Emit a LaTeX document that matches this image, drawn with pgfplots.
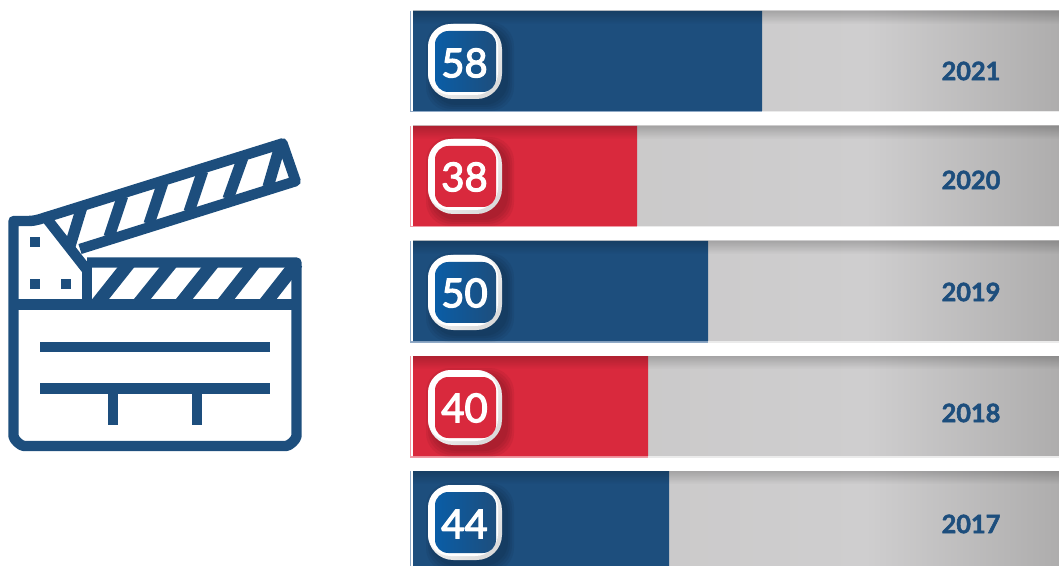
\documentclass[border=0pt]{standalone}
\usepackage{pgfplots}
\pgfplotsset{compat=1.18}
\usepackage{fontspec}
\setmainfont{Lato}
\newfontfamily\numfont[FakeBold=3]{Lato}
\newfontfamily\yearfont[BoldFeatures={FakeBold=2}]{Lato}
\definecolor{nblue}{HTML}{1D4E7D}
\definecolor{nred}{HTML}{D9293D}
\definecolor{gA}{HTML}{C6C5C5}
\definecolor{gB}{HTML}{CFCECF}
\definecolor{gC}{HTML}{AEADAD}
\definecolor{tintb}{HTML}{8FA9C6}
\definecolor{tintr}{HTML}{F09AA5}
\definecolor{badgeL}{HTML}{0A5DA6}
\pgfdeclarehorizontalshading{track}{100bp}{color(0bp)=(gA);color(25bp)=(gA);color(60bp)=(gB);color(75bp)=(gC);color(100bp)=(gC)}
\newcommand{\badge}[4]{%
  \begin{scope}[shift={(0,#1)}]
    \foreach \e in {7,5,3,1}{
      \fill[black,opacity=0.055,rounded corners=18]
        (428+5-\e,5-\e) rectangle (502+5+\e,75+5+\e);}
    \shade[rounded corners=19,left color=white,right color=white!86!black,shading angle=45]
      (428,0) rectangle (502,75);
    \fill[white,rounded corners=17] (428,0) rectangle (498,71);
    #2
    \node[text=white,inner sep=0pt,font=\fontsize{30pt}{30pt}\numfont] at (464.5,#4) {#3};
  \end{scope}}
\newcommand{\blueinner}{\shade[rounded corners=10,left color=badgeL,right color=nblue] (435,7) rectangle (496,68);}
\newcommand{\redinner}{\fill[nred,rounded corners=10] (435,7) rectangle (496,68);}
\begin{document}
\begin{tikzpicture}
\begin{scope}[x=0.75pt,y=-0.75pt]
\path[use as bounding box] (0,0) rectangle (1059,566);
\clip (0,0) rectangle (1059,566);
\foreach \t in {11,126,241,356,471}{
  \shade[shading=track] (413,\t) rectangle (1059,\t+100);
  \fill[white!92!black] (413,\t+100) rectangle (1059,\t+101.5);
}
\foreach \t/\c in {11/tintb,126/tintr,241/tintb,356/tintr,471/tintb}{
  \fill[\c] (410,\t) rectangle (411.2,\t+101.5);
}
\fill[tintb] (410,111) rectangle (762,112.5);
\fill[tintr] (410,226) rectangle (637,227.5);
\fill[tintb] (410,341) rectangle (708,342.5);
\fill[tintr] (410,456) rectangle (648,457.5);
\end{scope}
% bars: x in value units (5.9 px per unit), y = row position in pixels from the bottom
\begin{axis}[at={(309.75pt,-424.5pt)},anchor=south west,scale only axis,width=484.5pt,height=424.5pt,
  hide axis,xmin=0,xmax=109.49,ymin=0,ymax=566,
  xbar,bar width=75pt,bar shift=0pt]
\addplot[draw=none,fill=nblue] coordinates {(59.15,505) (50,275) (43.39,45)};
\addplot[draw=none,fill=nred] coordinates {(37.97,390) (39.83,160)};
\end{axis}
\begin{scope}[x=0.75pt,y=-0.75pt]
\clip (0,0) rectangle (1059,566);
\foreach \t in {11,126,241,356,471}{
  \foreach \i in {0,...,12}{
    \pgfmathsetmacro{\o}{0.19*(13-\i)/13}
    \fill[black,opacity=\o] (413,\t+\i) rectangle (1059,\t+\i+1);
  }
}
\badge{24}{\blueinner}{58}{39}
\badge{139}{\redinner}{38}{38}
\badge{255}{\blueinner}{50}{38}
\badge{370}{\redinner}{40}{38}
\badge{485}{\blueinner}{44}{39}
\end{scope}
\begin{scope}[x=0.75pt,y=-0.75pt]
\foreach \y/\l in {71/2021,180/2020,292/2019,413/2018,524/2017}{
  \node[text=nblue,inner sep=0pt,font=\fontsize{19pt}{19pt}\yearfont\bfseries] at (971,\y) {\l};
}
\begin{scope}[draw=nblue,line width=7.8pt,line join=round,line cap=butt]
  \draw (87,262.5) -- (296.5,262.5) -- (296.5,436) to[out=270,in=0,looseness=0.6] (286,446) -- (24,446) to[out=180,in=270,looseness=0.6] (13.5,436) -- (13.5,221) -- (28,221) to[out=0,in=196] (50,216) -- (282.5,143.4) -- (295.6,181.2) -- (80,249);
  \draw (13.5,304.5) -- (296.5,304.5);
  \draw (87,262.5) -- (87,304.5);
  \draw (45.7,217.3) -- (87,270);
  \draw[line width=8.4pt] (82.5,205) -- (70,246);
  \draw[line width=8.4pt] (122.7,196) -- (109,237);
  \draw[line width=8.4pt] (162.7,183) -- (149,224);
  \draw[line width=8.4pt] (202.7,171) -- (189,212);
  \draw[line width=8.4pt] (242.7,158) -- (228,199);
  \draw[line width=8.4pt] (280,146) -- (268,187);
  \draw[line width=9.8pt] (129.7,262.5) -- (96.3,304.5);
  \draw[line width=9.8pt] (171.8,262.5) -- (138,304.5);
  \draw[line width=9.8pt] (213.5,262.5) -- (180,304.5);
  \draw[line width=9.8pt] (255,262.5) -- (222,304.5);
  \draw[line width=9.8pt] (297,262.5) -- (264,304.5);
\end{scope}
\fill[nblue] (30,237) rectangle (40,247);
\fill[nblue] (30,279) rectangle (40,289);
\fill[nblue] (61,279) rectangle (71,289);
\fill[nblue] (40,342) rectangle (270,352);
\fill[nblue] (40,383) rectangle (270,394);
\fill[nblue] (108,394) rectangle (118,425);
\fill[nblue] (192,394) rectangle (202,425);
\end{scope}
\end{tikzpicture}
\end{document}
